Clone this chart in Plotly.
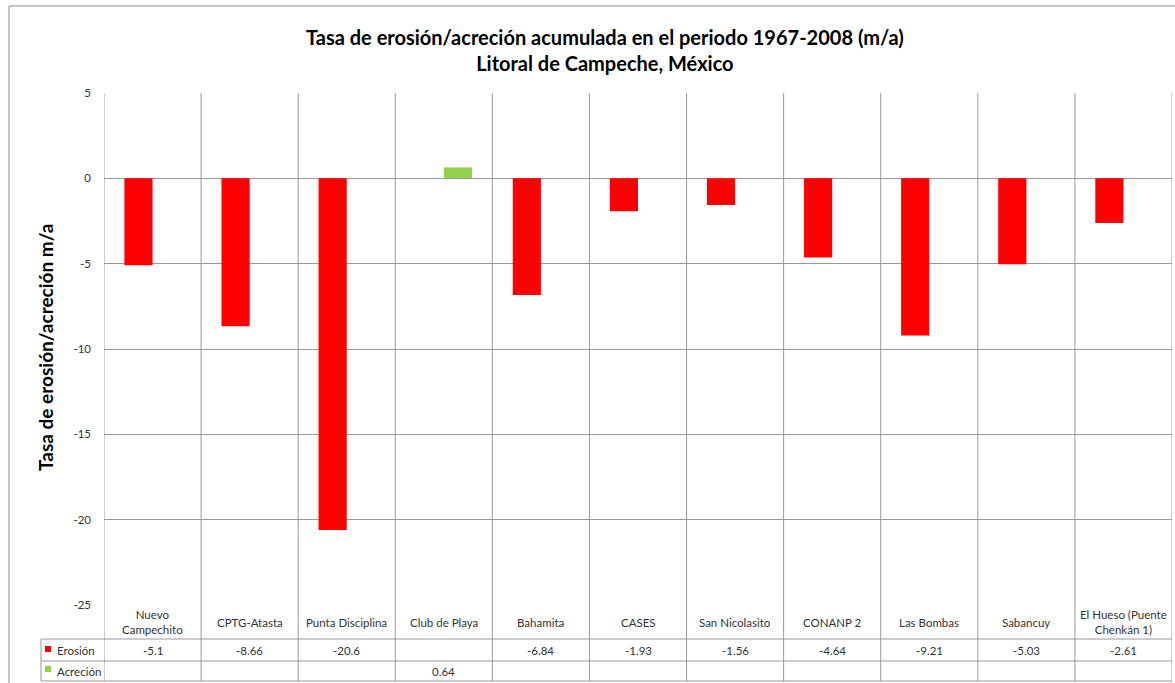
import plotly.graph_objects as go

# Coastal stations along the Campeche shoreline
stations = [
    "Nuevo<br>Campechito", "CPTG-Atasta", "Punta Disciplina", "Club de Playa",
    "Bahamita", "CASES", "San Nicolasito", "CONANP 2", "Las Bombas",
    "Sabancuy", "El Hueso (Puente<br>Chenkán 1)",
]
# Accumulated rates 1967-2008 (m/a); None where the station has no value
erosion = [-5.1, -8.66, -20.6, None, -6.84, -1.93, -1.56, -4.64, -9.21, -5.03, -2.61]
accretion = [None, None, None, 0.64, None, None, None, None, None, None, None]

y_ticks = [5, 0, -5, -10, -15, -20, -25]
y_tick_labels = ["5", "0", "-5", "-10", "-15", "-20", "-25"]

W, H = 1175, 683
PL, PR, PT, PB = 104, 1172, 93, 605  # plot area in pixels
FONT = "Lato"
GRID = "#999999"
TXT = "#333333"
RED, GREEN = "#FF0000", "#92D050"


def xp(px):
    return (px - PL) / (PR - PL)


def yp(py):
    return (PB - py) / (PB - PT)


fig = go.Figure()
fig.add_trace(go.Bar(name="Erosión", x=list(range(len(stations))), y=erosion,
                     marker=dict(color=RED, line=dict(width=0))))
fig.add_trace(go.Bar(name="Acreción", x=list(range(len(stations))), y=accretion,
                     marker=dict(color=GREEN, line=dict(width=0))))

shapes = []
line = dict(color=GRID, width=1)
# category separators running through the plot and the data table
for i in range(len(stations) + 1):
    shapes.append(dict(type="line", xref="x", yref="paper", x0=i - 0.5, x1=i - 0.5,
                       y0=yp(681), y1=1, line=line, layer="below"))
# data-table rows
for py, x0 in [(639, 41), (661, 41), (681, 41)]:
    shapes.append(dict(type="line", xref="paper", yref="paper", x0=xp(x0), x1=1,
                       y0=yp(py), y1=yp(py), line=line))
shapes.append(dict(type="line", xref="paper", yref="paper", x0=xp(41), x1=xp(41),
                   y0=yp(639), y1=yp(681), line=line))
# outer chart frame
shapes.append(dict(type="line", xref="paper", yref="paper", x0=xp(9), x1=xp(1180),
                   y0=yp(6), y1=yp(6), line=dict(color="#8c8c8c", width=1)))
shapes.append(dict(type="line", xref="paper", yref="paper", x0=xp(9), x1=xp(9),
                   y0=yp(6), y1=yp(690), line=dict(color="#8c8c8c", width=1)))
# legend keys inside the table
for (py, col) in [(649, RED), (669, GREEN)]:
    shapes.append(dict(type="rect", xref="paper", yref="paper", x0=xp(45), x1=xp(51),
                       y0=yp(py - 3), y1=yp(py + 3), fillcolor=col, line=dict(width=0)))

ann = []
# title
ann.append(dict(xref="paper", yref="paper", x=xp(605), y=yp(50), xanchor="center",
                yanchor="middle", showarrow=False,
                text="<b>Tasa de erosión/acreción acumulada en el periodo 1967-2008 (m/a)</b><br>"
                     "<b>Litoral de Campeche, México</b>",
                font=dict(family=FONT, size=20, color="#000")))
# y-axis title
ann.append(dict(xref="paper", yref="paper", x=xp(45), y=yp(348), xanchor="center",
                yanchor="middle", showarrow=False, textangle=-90,
                text="<b>Tasa de erosión/acreción m/a</b>",
                font=dict(family=FONT, size=19, color="#000")))
tf = dict(family=FONT, size=11.5, color=TXT)
for i, name in enumerate(stations):
    ann.append(dict(xref="x", yref="paper", x=i, y=yp(622), xanchor="center",
                    yanchor="middle", showarrow=False, text=name, font=tf))
    if erosion[i] is not None:
        ann.append(dict(xref="x", yref="paper", x=i, y=yp(650), xanchor="center",
                        yanchor="middle", showarrow=False, text=str(erosion[i]), font=tf))
    if accretion[i] is not None:
        ann.append(dict(xref="x", yref="paper", x=i, y=yp(671), xanchor="center",
                        yanchor="middle", showarrow=False, text=str(accretion[i]), font=tf))
ann.append(dict(xref="paper", yref="paper", x=xp(55), y=yp(650), xanchor="left",
                yanchor="middle", showarrow=False, text="Erosión", font=tf))
ann.append(dict(xref="paper", yref="paper", x=xp(55), y=yp(671), xanchor="left",
                yanchor="middle", showarrow=False, text="Acreción", font=tf))

fig.update_layout(
    width=W, height=H,
    margin=dict(l=PL, r=W - PR, t=PT, b=H - PB, pad=0),
    paper_bgcolor="white", plot_bgcolor="white",
    barmode="group", bargap=0.42, bargroupgap=0,
    showlegend=False,
    shapes=shapes, annotations=ann,
    font=dict(family=FONT, size=11, color=TXT),
    xaxis=dict(range=[-0.5, len(stations) - 0.5], showticklabels=False,
               showgrid=False, zeroline=False, showline=False, ticks=""),
    yaxis=dict(range=[-25, 5], tickvals=y_ticks, ticktext=y_tick_labels,
               showgrid=True, gridcolor=GRID,
               gridwidth=1, zeroline=True, zerolinecolor=GRID, zerolinewidth=1,
               showline=False, ticks="", ticklabelstandoff=12,
               tickfont=dict(family=FONT, size=11.5, color=TXT)),
)

fig.write_html("out.html")
